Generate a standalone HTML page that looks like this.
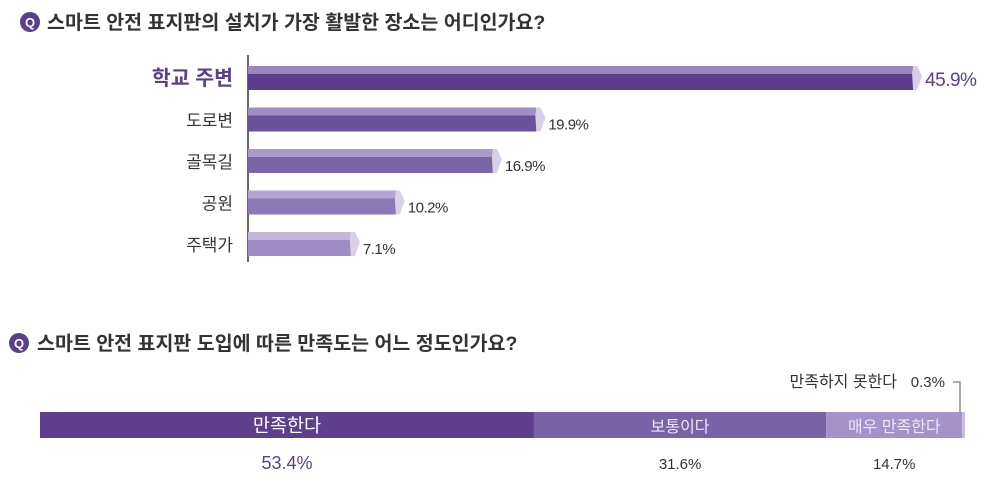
<!DOCTYPE html>
<html><head><meta charset="utf-8"><style>
body{margin:0;background:#fff;width:1000px;height:498px;overflow:hidden;font-family:"Liberation Sans","Noto Sans CJK KR",sans-serif}
</style></head><body>
<svg id="c" width="1000" height="498" xmlns="http://www.w3.org/2000/svg" font-family="Liberation Sans, Noto Sans CJK KR, sans-serif">
<g>
<circle cx="30" cy="22" r="10" fill="#5c3f8c"/><text x="30" y="27" fill="#fff" font-size="13" font-weight="bold" text-anchor="middle">Q</text>
<text x="47" y="29" font-size="19.5" font-weight="bold" fill="#333">스마트 안전 표지판의 설치가 가장 활발한 장소는 어디인가요?</text></g>
<g>
<circle cx="19" cy="343" r="10" fill="#5c3f8c"/><text x="19" y="348" fill="#fff" font-size="13" font-weight="bold" text-anchor="middle">Q</text>
<text x="37" y="350" font-size="19.5" font-weight="bold" fill="#333">스마트 안전 표지판 도입에 따른 만족도는 어느 정도인가요?</text></g>
<line x1="248" y1="55" x2="248" y2="262" stroke="#333" stroke-width="1.5"/>
<g id="bars"></g>
<g id="stack"></g>
<polyline points="953,382 960,382 960,412" fill="none" stroke="#555" stroke-width="1"/>
<text x="897" y="387" font-size="16" fill="#333" text-anchor="end">만족하지 못한다</text>
<text x="945" y="387" font-size="15" fill="#333" text-anchor="end">0.3%</text>
</svg>
<script>
const categories=["학교 주변","도로변","골목길","공원","주택가"];
const values=[45.9,19.9,16.9,10.2,7.1];
const satLabels=["만족한다","보통이다","매우 만족한다","만족하지 못한다"];
const satValues=[53.4,31.6,14.7,0.3];
const topCols=["#9a86bd","#a08fc4","#a99ac9","#b3a5d1","#c4b6da"];
const botCols=["#5c3f8c","#6b5298","#7a64a6","#8d78b6","#a08cc4"];
const NS="http://www.w3.org/2000/svg";
function mk(t,a,p){const e=document.createElementNS(NS,t);for(const k in a)e.setAttribute(k,a[k]);p.appendChild(e);return e;}
const x0=248,sc=14.49;
function xS(v){return x0+v*sc;}
function yS(i){return 66+i*41.5;}
const bg=document.getElementById('bars');
values.forEach((v,i)=>{
 const g=mk('g',{},bg);
 
 
 const y=yS(i),xe=xS(v),h=24,ht=8;
 mk('rect',{x:x0,y:y,width:xe-x0,height:ht,fill:topCols[i]},g);
 mk('rect',{x:x0,y:y+ht,width:xe-x0,height:h-ht,fill:botCols[i]},g);
 mk('polygon',{points:`${xe},${y} ${xe+4},${y} ${xe+9},${y+ht+2} ${xe+4},${y+h} ${xe},${y+h} ${xe-1},${y+ht}`,fill:"#d9d0e8"},g);
 const l=mk('text',{x:233,y:y+19,'font-size':i==0?20.5:17,'font-weight':i==0?'bold':'normal',fill:i==0?'#5c3f8c':'#333','text-anchor':'end'},bg);
 l.textContent=categories[i];
 
 
 const t=mk('text',{x:xe+12,y:y+(i==0?20:22),'font-size':i==0?19:15,fill:i==0?'#5c3f8c':'#333','letter-spacing':'-0.5'},bg);
 t.textContent=v.toFixed(1)+'%';
 
 
});
const sg=document.getElementById('stack');
const sx0=40,sw=925,segCols=["#5e3f8d","#7a62a6","#a592c8","#c9bde0"];
let acc=0;
satValues.forEach((v,i)=>{
 const xa=sx0+acc/100*sw,w=v/100*sw;acc+=v;
 const r=mk('rect',{x:xa,y:412,width:w,height:26,fill:segCols[i]},sg);
 
 
 if(i<3){
  const t=mk('text',{x:xa+w/2,y:432,'font-size':i==0?18.5:16,fill:i==0?'#fff':'#ece6f5','text-anchor':'middle'},sg);
  t.textContent=satLabels[i];
  
  
  const p=mk('text',{x:xa+w/2,y:469,'font-size':i==0?18:15,fill:i==0?'#5c3f8c':'#333','text-anchor':'middle'},sg);
  p.textContent=v.toFixed(1)+'%';
  
  
 }
});
</script>
</body></html>
